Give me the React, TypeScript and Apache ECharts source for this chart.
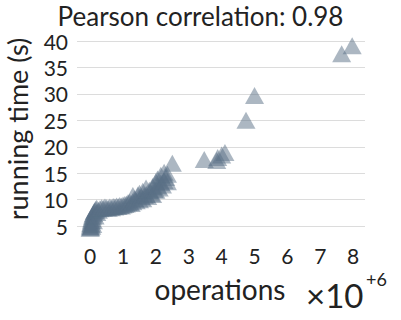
import React, { useEffect, useRef } from "react";
import * as echarts from "echarts";

// operations (×10^6) and running time (s)
const opsMillions: number[] = [
  0, 0, 0.01, 0.02, 0.03, 0.04, 0.05, 0.07, 0.08, 0.1, 0.12, 0.14, 0.17, 0.2,
  0.05, 0.1, 0.15, 0.2, 0.25, 0.02, 0.08,
  0.3, 0.35, 0.4, 0.45, 0.5, 0.55, 0.6, 0.65, 0.7, 0.75, 0.8, 0.85, 0.9, 0.95,
  1.0, 1.05, 1.1, 1.15, 1.2, 1.25,
  1.3, 1.3, 1.35, 1.4, 1.45, 1.5, 1.5, 1.55, 1.6, 1.6, 1.65, 1.7, 1.7, 1.75,
  1.8, 1.85, 1.9, 1.9, 1.95, 2.0, 2.0, 2.05, 2.05, 2.1, 2.15, 2.15, 2.2, 2.25,
  2.25, 2.3, 2.35, 2.35,
  2.5, 3.47, 3.85, 3.88, 4.0, 4.1, 4.74, 5.0, 7.65, 7.97,
];
const runningTime: number[] = [
  4.6, 4.9, 5.2, 5.5, 5.8, 6.1, 6.4, 6.8, 7.1, 7.4, 7.7, 7.9, 8.2, 8.4,
  5.0, 6.0, 6.9, 7.6, 8.0, 4.7, 5.3,
  8.3, 8.5, 8.4, 8.6, 8.5, 8.4, 8.6, 8.5, 8.7, 8.6, 8.8, 8.7, 8.9, 8.8,
  9.0, 9.1, 9.2, 9.4, 9.5, 9.3,
  9.6, 10.8, 10.2, 9.8, 10.9, 10.0, 11.2, 10.5, 11.6, 10.2, 10.8, 12.2, 11.0, 10.6,
  11.8, 11.2, 12.5, 11.0, 11.9, 13.4, 11.8, 12.6, 13.9, 12.2, 13.2, 14.6, 12.8, 13.6,
  15.2, 14.2, 13.4, 14.8,
  16.9, 17.6, 17.4, 18.0, 18.45, 18.9, 25.0, 29.7, 37.6, 39.1,
];

const yTicks: number[] = [5, 10, 15, 20, 25, 30, 35, 40];
const xTicks: number[] = [0, 1, 2, 3, 4, 5, 6, 7, 8];

const titleText = "Pearson correlation: 0.98";
const xName = "operations";
const yName = "running time (s)";

const FONT = "Lato";
const TXT = "#222222";

export default function App() {
  const ref = useRef<HTMLDivElement>(null);
  useEffect(() => {
    if (!ref.current) return;
    const chart = echarts.init(ref.current, undefined, { renderer: "svg" });
    const data = opsMillions.map((x, i) => [x, runningTime[i]]);
    chart.setOption({
      animation: false,
      textStyle: { fontFamily: FONT },
      title: {
        text: titleText,
        left: "center",
        top: 0,
        padding: [2, 5, 0, 5],
        textStyle: { fontFamily: FONT, fontSize: 26, lineHeight: 27, fontWeight: "normal", color: TXT },
      },
      grid: { left: 77, right: 36, top: 41, bottom: 67.4 },
      xAxis: {
        type: "value",
        min: -0.4,
        max: 8.36,
        splitNumber: 9,
        axisLine: { show: false },
        axisTick: { show: false },
        splitLine: { show: false },
        axisLabel: {
          showMinLabel: false,
          showMaxLabel: false,
          margin: -8,
          fontSize: 21,
          fontFamily: FONT,
          color: TXT,
          formatter: (v: number) => (xTicks.includes(v) ? String(v) : ""),
        },
      },
      yAxis: {
        type: "value",
        min: 0,
        max: 40,
        interval: 5,
        axisLine: { show: false },
        axisTick: { show: false },
        splitLine: { show: true, showMinLine: false, lineStyle: { color: "#dcdcdc", width: 1 } },
        axisLabel: {
          showMinLabel: false,
          margin: 9,
          fontSize: 21,
          lineHeight: 18,
          fontFamily: FONT,
          color: TXT,
          formatter: (v: number) => (yTicks.includes(v) ? String(v) : ""),
        },
      },
      graphic: [
        {
          type: "text",
          x: 220,
          y: 289,
          style: { text: xName, font: `28px ${FONT}`, fill: TXT, align: "center", verticalAlign: "middle" },
        },
        {
          type: "text",
          x: 306,
          y: 295,
          style: { text: "×10", font: `33px ${FONT}`, fill: TXT, align: "left", verticalAlign: "middle" },
        },
        {
          type: "text",
          x: 366,
          y: 279,
          style: { text: "+6", font: `18px ${FONT}`, fill: TXT, align: "left", verticalAlign: "middle" },
        },
        {
          type: "text",
          x: 17,
          y: 129,
          rotation: Math.PI / 2,
          style: { text: yName, font: `27px ${FONT}`, fill: TXT, align: "center", verticalAlign: "middle" },
        },
      ],
      series: [
        {
          type: "scatter",
          data,
          symbol: "triangle",
          symbolSize: [19, 17],
          itemStyle: { color: "#5a6f85", opacity: 0.5 },
        },
      ],
    });
    return () => chart.dispose();
  }, []);
  return <div ref={ref} style={{ width: 401, height: 320, position: "absolute", left: 0, top: 0 }} />;
}
